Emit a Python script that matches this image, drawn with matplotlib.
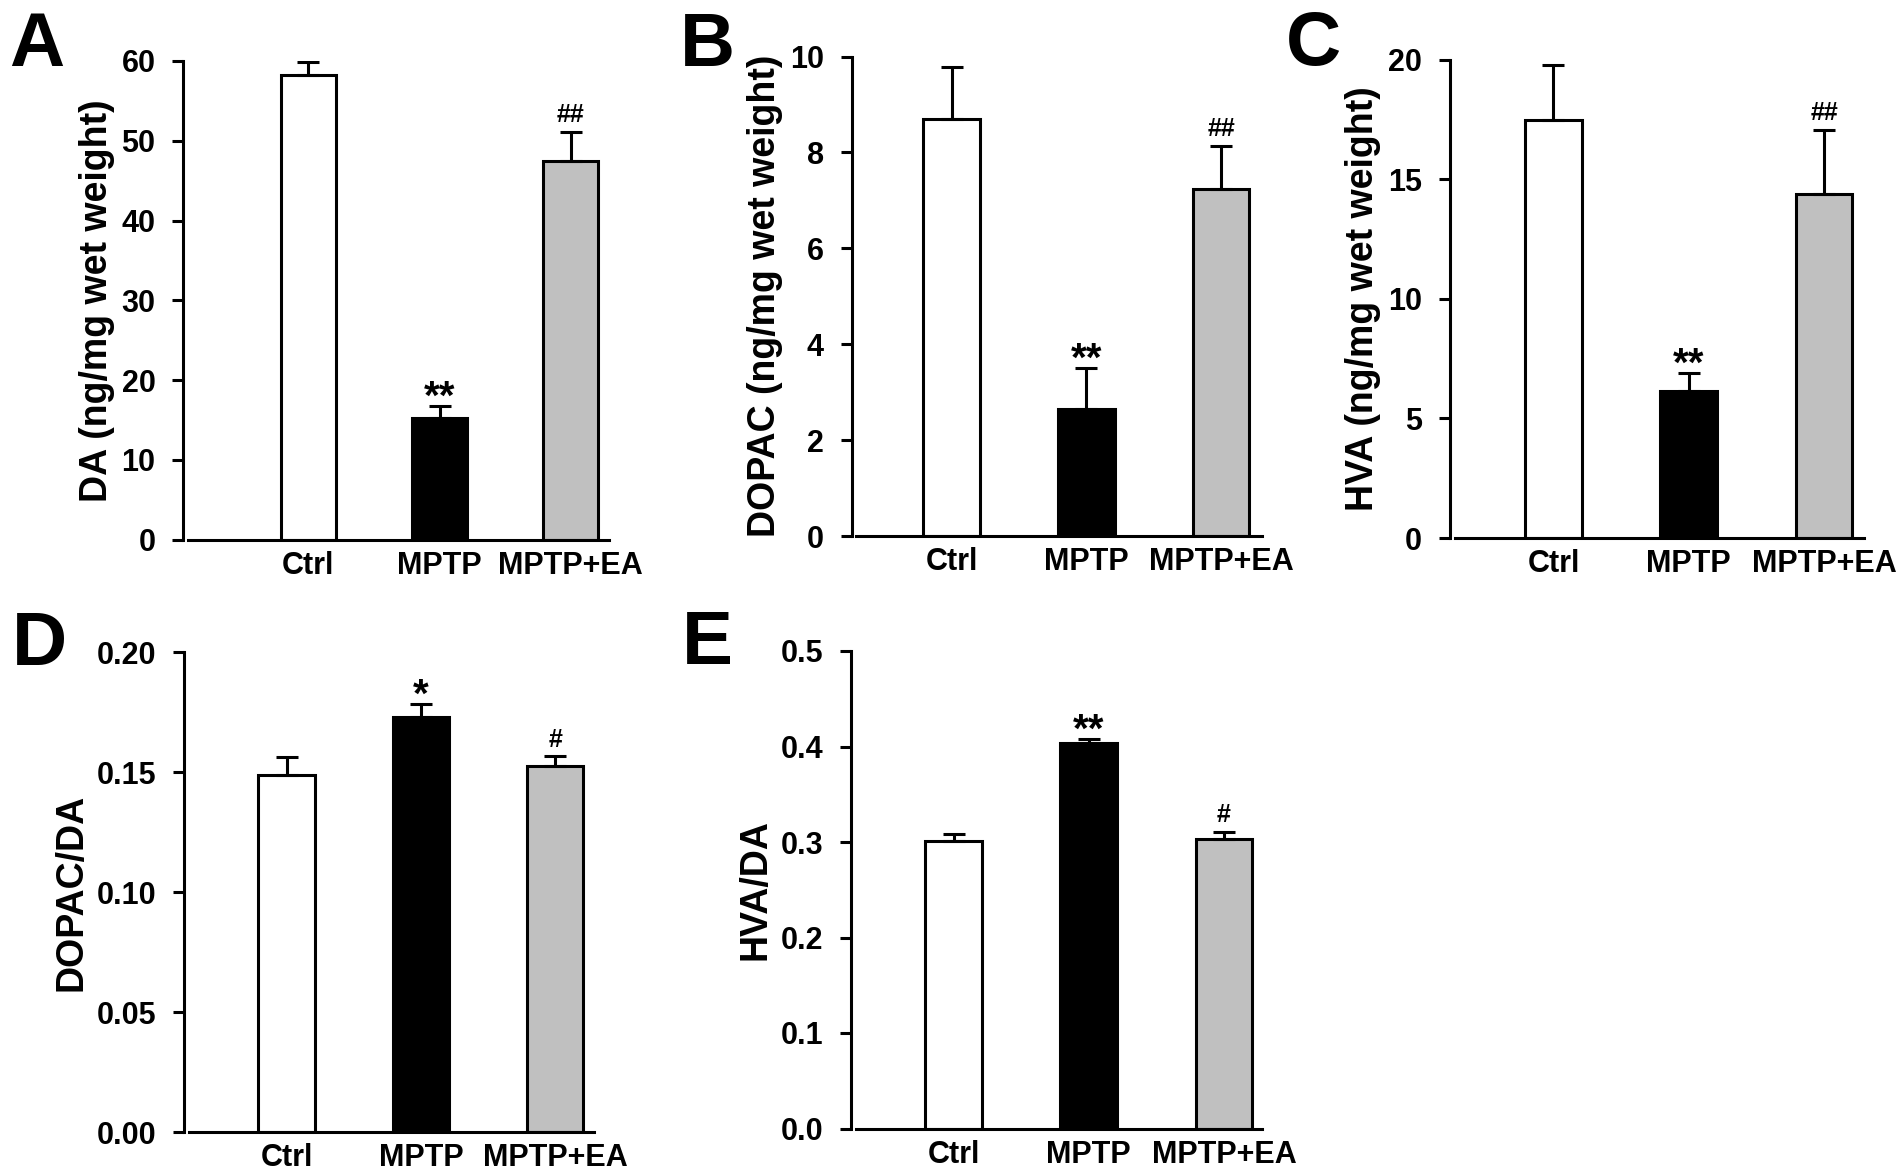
import numpy as np
import matplotlib
matplotlib.use("Agg")
import matplotlib.pyplot as plt

plt.rcParams['font.family'] = ['Liberation Sans', 'DejaVu Sans']
plt.rcParams['font.weight'] = 'bold'

# --- data ---
groups = ['Ctrl', 'MPTP', 'MPTP+EA']
bar_colors = ['white', 'black', '#c0c0c0']

da_mean = [58.2, 15.2, 47.4]
da_sem = [1.7, 1.6, 3.7]
da_marks = ['', '**', '##']

dopac_mean = [8.69, 2.64, 7.24]
dopac_sem = [1.09, 0.87, 0.90]
dopac_marks = ['', '**', '##']

hva_mean = [17.47, 6.14, 14.37]
hva_sem = [2.29, 0.75, 2.70]
hva_marks = ['', '**', '##']

dopac_da_mean = [0.1487, 0.1729, 0.1524]
dopac_da_sem = [0.0075, 0.0053, 0.0041]
dopac_da_marks = ['', '*', '#']

hva_da_mean = [0.3008, 0.4032, 0.3036]
hva_da_sem = [0.0079, 0.0048, 0.0071]
hva_da_marks = ['', '**', '#']

# --- figure ---
W, H = 1902, 1174
fig = plt.figure(figsize=(W / 100, H / 100), dpi=100)

LW = 2.2


def make_axes(left, right, top, bottom):
    return fig.add_axes([left / W, 1 - bottom / H, (right - left) / W, (bottom - top) / H])


def draw_panel(ax, means, sems, marks, ylabel, yticks, fmt, xlim):
    x = np.arange(len(groups))
    ax.bar(x, means, width=0.42, color=bar_colors, edgecolor='black',
           linewidth=LW, zorder=2)
    ax.errorbar(x, means, yerr=[np.zeros(len(sems)), sems], fmt='none',
                ecolor='black', elinewidth=LW, capsize=8, capthick=LW, zorder=3)
    for i, m in enumerate(marks):
        if not m:
            continue
        top = means[i] + sems[i]
        if '#' in m:
            ax.annotate(m, xy=(i, top), xytext=(0, 7), textcoords='offset points',
                        ha='center', va='baseline', fontsize=18, fontweight='bold')
        else:
            ax.annotate(m, xy=(i, top), xytext=(0, -2), textcoords='offset points',
                        ha='center', va='baseline', fontsize=29, fontweight='bold')

    ax.set_xlim(*xlim)
    ax.set_ylim(yticks[0], yticks[-1])
    ax.set_yticks(yticks)
    ax.set_yticklabels([fmt.format(v) for v in yticks])
    ax.set_xticks(x)
    ax.set_xticklabels(groups)
    ax.tick_params(axis='y', length=8, width=LW, pad=12, labelsize=22)
    ax.tick_params(axis='x', length=0, pad=8, labelsize=22)
    ax.set_ylabel(ylabel, fontsize=27, fontweight='bold', labelpad=5)

    for s in ['top', 'right']:
        ax.spines[s].set_visible(False)
    for s in ['left', 'bottom']:
        ax.spines[s].set_linewidth(LW)
    # small gap between the y axis and the start of the x axis line
    width_px = ax.get_position().width * W
    gap = (xlim[1] - xlim[0]) / width_px * 4.5
    ax.spines['bottom'].set_bounds(xlim[0] + gap, xlim[1])
    ax.patch.set_visible(False)


ax_a = make_axes(183.3, 609, 61, 539.5)
draw_panel(ax_a, da_mean, da_sem, da_marks, 'DA (ng/mg wet weight)',
           [0, 10, 20, 30, 40, 50, 60], '{:g}', (-0.953, 2.292))

ax_b = make_axes(851.7, 1261.7, 56.5, 536)
draw_panel(ax_b, dopac_mean, dopac_sem, dopac_marks, 'DOPAC (ng/mg wet weight)',
           [0, 2, 4, 6, 8, 10], '{:g}', (-0.743, 2.302))

ax_c = make_axes(1450, 1863.5, 59.5, 538)
draw_panel(ax_c, hva_mean, hva_sem, hva_marks, 'HVA (ng/mg wet weight)',
           [0, 5, 10, 15, 20], '{:g}', (-0.765, 2.292))

ax_d = make_axes(184, 594, 652, 1132)
draw_panel(ax_d, dopac_da_mean, dopac_da_sem, dopac_da_marks, 'DOPAC/DA',
           [0.0, 0.05, 0.10, 0.15, 0.20], '{:.2f}', (-0.764, 2.29))

ax_e = make_axes(851, 1262, 651, 1128.5)
draw_panel(ax_e, hva_da_mean, hva_da_sem, hva_da_marks, 'HVA/DA',
           [0.0, 0.1, 0.2, 0.3, 0.4, 0.5], '{:.1f}', (-0.758, 2.281))

# panel letters (baseline positions in pixels)
letters = [('A', 9, 66.5), ('B', 680, 66.5), ('C', 1286, 65),
           ('D', 12, 665), ('E', 682, 664)]
for txt, lx, ly in letters:
    fig.text(lx / W, 1 - ly / H, txt, fontsize=55, fontweight='bold',
             ha='left', va='baseline')

fig.savefig('out.png', dpi=100, facecolor='white')
